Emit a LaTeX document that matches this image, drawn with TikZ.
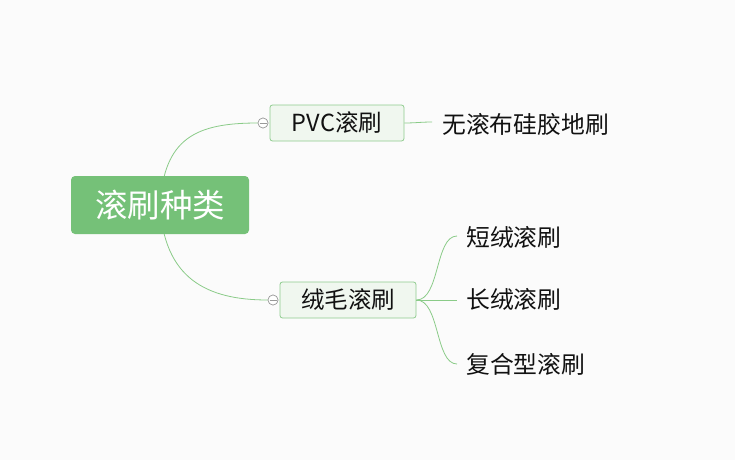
\documentclass[tikz,border=0pt]{standalone}
\usepackage{fontspec}
\newfontfamily\cjk{Noto Sans CJK SC}
\definecolor{bg}{HTML}{FBFBFB}
\definecolor{rootg}{HTML}{75C178}
\definecolor{subfill}{HTML}{F0F7EF}
\definecolor{subline}{HTML}{8FCB8E}
\definecolor{linkg}{HTML}{8ACB88}
\definecolor{txt}{HTML}{111111}
\begin{document}
\begin{tikzpicture}[x=1pt,y=-1pt,
  rootbox/.style={fill=rootg, rounded corners=4pt, minimum width=178pt, minimum height=58pt, inner sep=0pt, text=white, font=\cjk\fontsize{32.5}{34}\selectfont},
  subbox/.style={fill=subfill, draw=subline, line width=0.8pt, rounded corners=2.5pt, minimum height=36pt, inner sep=0pt, text=txt, font=\cjk\fontsize{23.5}{25}\selectfont},
  leaf/.style={anchor=west, inner sep=0pt, text=txt, font=\cjk\fontsize{23.8}{25}\selectfont},
  link/.style={draw=linkg, line width=0.8pt},
  fold/.style={circle, draw=gray!80, fill=white, line width=0.6pt, minimum size=10pt, inner sep=0pt}]
\fill[bg] (0,0) rectangle (735,460);
\useasboundingbox (0,0) rectangle (735,460);
% nodes
\coordinate (rc) at (160,205);
\node[subbox, minimum width=134pt] (pvc) at (337,123) {PVC滚刷};
\node[subbox, minimum width=136pt] (rm) at (348,300) {绒毛滚刷};
\node[fold] (f1) at (263,123) {};
\node[fold] (f2) at (273,300) {};
\node[leaf] (l0) at (442,124) {无滚布硅胶地刷};
\node[leaf] (l1) at (466,238) {短绒滚刷};
\node[leaf] (l2) at (466,300) {长绒滚刷};
\node[leaf] (l3) at (466,364) {复合型滚刷};
\coordinate (e0) at (432,122);
\coordinate (e1) at (457,236);
\coordinate (e2) at (457,300);
\coordinate (e3) at (457,364);
% links
\draw[link] (rc) .. controls (164,138) and (196,123) .. (f1.west);
\draw[link] (rc) .. controls (164,278) and (206,300) .. (f2.west);
\draw[link] (pvc.east) .. controls (415,123) and (422,122) .. (e0);
\draw[link] (rm.east) .. controls (440,300) and (435,236) .. (e1);
\draw[link] (rm.east) -- (e2);
\draw[link] (rm.east) .. controls (440,300) and (435,364) .. (e3);
\node[rootbox] (root) at (160,205) {滚刷种类};
\node[fold] at (263,123) {};
\node[fold] at (273,300) {};
\draw[gray!80, line width=0.7pt] (259.5,123) -- (266.5,123);
\draw[gray!80, line width=0.7pt] (269.5,300) -- (276.5,300);
\end{tikzpicture}
\end{document}
